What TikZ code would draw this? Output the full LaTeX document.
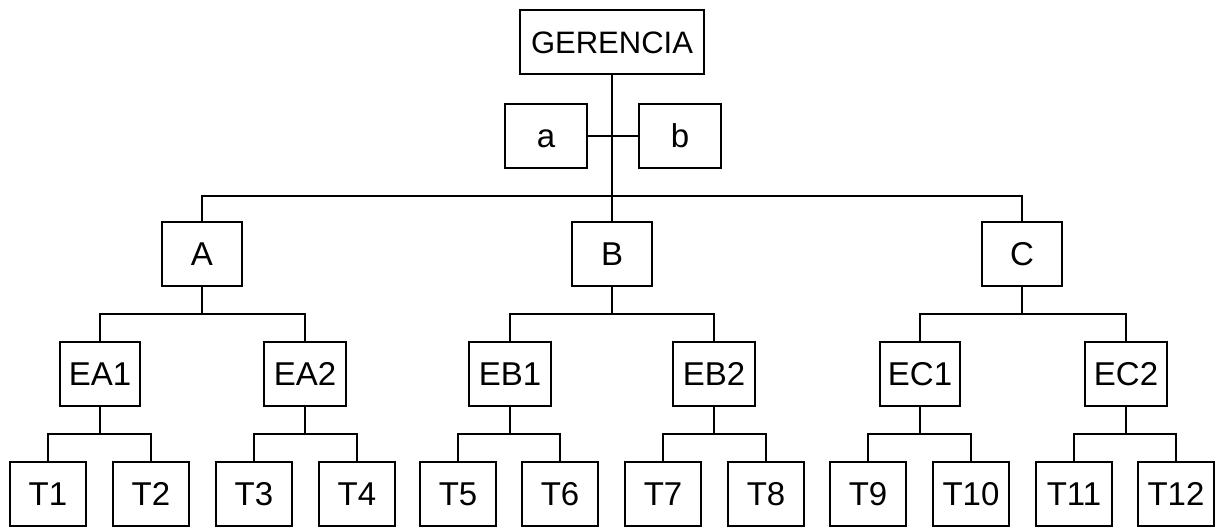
\documentclass[tikz,border=0pt]{standalone}
\usepackage{fontspec}
\setmainfont{Liberation Sans}
\begin{document}
\begin{tikzpicture}[x=1pt,y=-1pt,
  box/.style={draw,line width=2pt,inner sep=0pt,font=\fontsize{33}{36}\selectfont,
    text height=23.5pt,text depth=0pt,minimum height=64pt,minimum width=#1},
  box/.default=80pt,
  conn/.style={line width=2pt}]
\useasboundingbox (0,0) rectangle (1217,527);
% top
\node[box=184pt,font=\fontsize{31}{34}\selectfont,text height=22pt] (G) at (612,42) {GERENCIA};
\node[box=82pt] (a) at (546,136) {a};
\node[box=82pt] (b) at (680,136) {b};
% level 1
\node[box=80pt] (A) at (202,254) {A};
\node[box=80pt] (B) at (612,254) {B};
\node[box=80pt] (C) at (1022,254) {C};
% level 2
\node[box=80pt] (EA1) at (100,374) {EA1};
\node[box=82pt] (EA2) at (305,374) {EA2};
\node[box=82pt] (EB1) at (510,374) {EB1};
\node[box=82pt] (EB2) at (714,374) {EB2};
\node[box=80pt] (EC1) at (920,374) {EC1};
\node[box=82pt] (EC2) at (1126,374) {EC2};
% level 3
\node[box=76pt] (T1) at (48,494) {T1};
\node[box=76pt] (T2) at (151,494) {T2};
\node[box=76pt] (T3) at (254,494) {T3};
\node[box=76pt] (T4) at (357,494) {T4};
\node[box=76pt] (T5) at (458,494) {T5};
\node[box=76pt] (T6) at (560,494) {T6};
\node[box=76pt] (T7) at (663,494) {T7};
\node[box=76pt] (T8) at (766,494) {T8};
\node[box=76pt] (T9) at (868,494) {T9};
\node[box=76pt] (T10) at (971,494) {T10};
\node[box=76pt] (T11) at (1074,494) {T11};
\node[box=76pt] (T12) at (1176,494) {T12};
% connectors
\coordinate (bus) at (612,196);
\draw[conn] (G.south) -- (B.north);
\draw[conn] (a.east) -- (b.west);
\draw[conn] (A.north) |- (bus) -| (C.north);
\foreach \p/\l/\r in {A/EA1/EA2,B/EB1/EB2,C/EC1/EC2}{
  \draw[conn] (\l.north) |- (\p.south |- 0,314) -| (\r.north);
  \draw[conn] (\p.south) -- (\p.south |- 0,314);
}
\foreach \p/\l/\r in {EA1/T1/T2,EA2/T3/T4,EB1/T5/T6,EB2/T7/T8,EC1/T9/T10,EC2/T11/T12}{
  \draw[conn] (\l.north) |- (\p.south |- 0,434) -| (\r.north);
  \draw[conn] (\p.south) -- (\p.south |- 0,434);
}
\end{tikzpicture}
\end{document}
